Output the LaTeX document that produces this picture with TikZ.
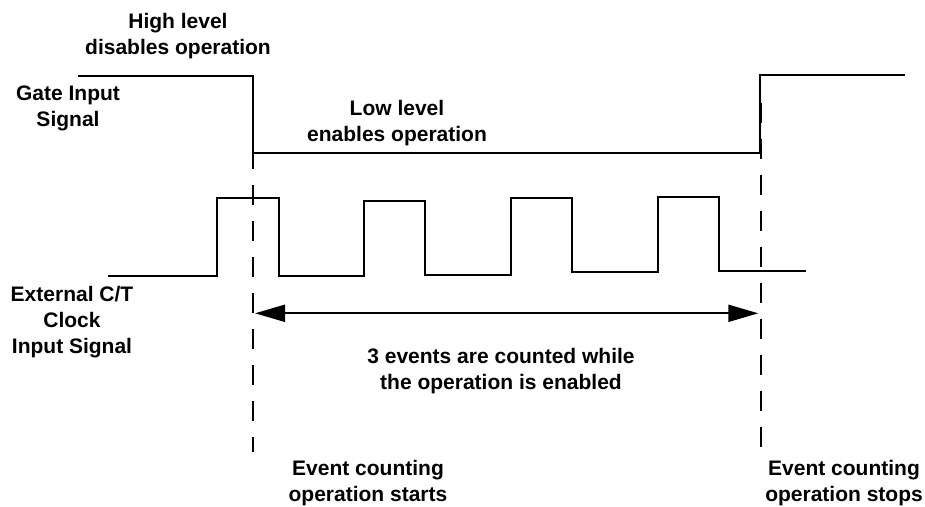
\documentclass[tikz,border=0pt]{standalone}
\usepackage{fontspec}
\setmainfont{Liberation Sans}
\usetikzlibrary{arrows.meta}
\begin{document}
\begin{tikzpicture}[x=1pt,y=-1pt,
  wave/.style={line width=2pt,line join=miter},
  marker/.style={line width=2pt,dash pattern=on 20pt off 16pt},
  span/.style={line width=2pt,{Triangle[length=30pt,width=17pt]}-{Triangle[length=30pt,width=17pt]}},
  lbl/.style={align=center,inner sep=0pt,font=\bfseries\fontsize{21}{26}\selectfont}]
\useasboundingbox (0,0) rectangle (925,506);

% gate input: high, low while enabled, high again
\draw[wave] (78,75.7) -- (252.7,75.7) -- (252.7,152.7) -- (760,152.7)
  -- (760,75) -- (905,75);

% external clock pulses
\draw[wave] (108.3,275.7) -- (217.3,275.7) -- (217.3,198.3) -- (278.5,198.3)
  -- (278.5,276) -- (364,276) -- (364,201) -- (424.7,201) -- (424.7,275)
  -- (511,275) -- (511,197.7) -- (572.3,197.7) -- (572.3,271.7)
  -- (658,271.7) -- (658,196.7) -- (718.7,196.7) -- (718.7,270.7)
  -- (805.7,270.7);

% start / stop markers
\coordinate (startTop) at (252.7,113);
\coordinate (startBot) at (252.7,452);
\coordinate (stopTop) at (761,103);
\coordinate (stopBot) at (761,452);
\draw[marker] (startTop) -- (startBot);
\draw[marker] (stopTop) -- (stopBot);

% counting interval
\coordinate (spanL) at (255,313.3);
\coordinate (spanR) at (758.3,313.3);
\draw[span] (spanL) -- (spanR);

% labels
\node[lbl] (high) at (178,36) {High level\\disables operation};
\node[lbl] (gate) at (68,108) {Gate Input\\Signal};
\node[lbl] (low) at (397,123) {Low level\\enables operation};
\node[lbl] (clk) at (72,322) {External C/T\\Clock\\Input Signal};
\node[lbl] (count) at (501,371) {3 events are counted while\\the operation is enabled};
\node[lbl] (starts) at (368,483) {Event counting\\operation starts};
\node[lbl] (stops) at (844,483) {Event counting\\operation stops};
\end{tikzpicture}
\end{document}
